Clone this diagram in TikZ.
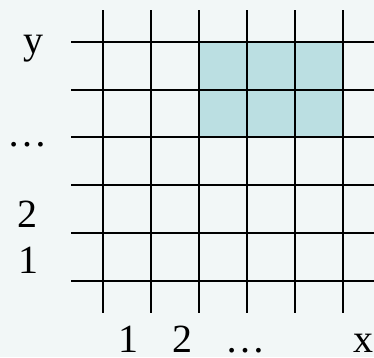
\documentclass[tikz,border=0pt]{standalone}
\usepackage{fontspec}
\setmainfont{Liberation Serif}
\definecolor{bgc}{RGB}{242,247,247}
\definecolor{cellc}{RGB}{187,223,226}
\begin{document}
\begin{tikzpicture}[x=1pt,y=-1pt,
  gridline/.style={line width=2.6pt,black},
  lab/.style={anchor=base,inner sep=0pt,font=\fontsize{40}{48}\selectfont}]
\fill[bgc] (0,0) rectangle (374,357);
\useasboundingbox (0,0) rectangle (374,357);
\fill[cellc] (199,42) rectangle (343,137);
\foreach \x in {103,151,199,247,295,343}
  \draw[gridline] (\x,10) -- (\x,313);
\foreach \y in {42,90,137,185,233,281}
  \draw[gridline] (71,\y) -- (374,\y);
\node[lab] (ly) at (33,53) {y};
\node[lab] (ldots) at (27,146) {…};
\node[lab] (l2) at (27,227) {2};
\node[lab] (l1) at (28,273) {1};
\node[lab] (b1) at (128.5,352) {1};
\node[lab] (b2) at (182,352) {2};
\node[lab] (bdots) at (245.5,352) {…};
\node[lab] (bx) at (363,352) {x};
\end{tikzpicture}
\end{document}
